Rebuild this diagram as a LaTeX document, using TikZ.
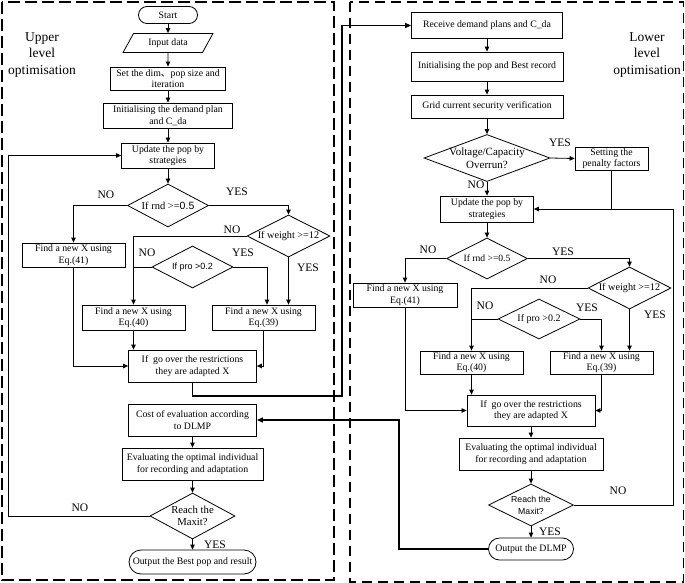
\documentclass[tikz,border=0pt]{standalone}
\usepackage{fontspec}
\setmainfont{Liberation Serif}
\newfontfamily\sansf{Liberation Sans}
\newfontfamily\cjk{Noto Sans CJK SC}
\usetikzlibrary{shapes.geometric,arrows.meta,calc}
\begin{document}
\begin{tikzpicture}[x=1pt,y=-1pt,
 box/.style={draw,rectangle,align=center,inner sep=1pt,font=\fontsize{9.8}{11.5}\selectfont,line width=0.8pt},
 dia/.style={draw,diamond,inner sep=0pt,line width=0.8pt},
 txt/.style={align=center,inner sep=0pt,font=\fontsize{10}{12}\selectfont},
 stxt/.style={align=center,inner sep=0pt,font=\sansf\fontsize{8.7}{12}\selectfont},
 lab/.style={inner sep=0pt,font=\fontsize{11.5}{12}\selectfont},
 ttl/.style={align=center,inner sep=0pt,font=\fontsize{13.5}{16.5}\selectfont},
 arr/.style={-{Triangle[length=5pt,width=4.5pt]},line width=0.8pt},
 ln/.style={line width=0.8pt},
 tarr/.style={-{Triangle[length=6pt,width=5pt]},line width=1.4pt},
 panelL/.style={dash pattern=on 12pt off 5pt,line width=1.6pt},
 panelR/.style={dash pattern=on 10pt off 6pt,line width=1.2pt}
]
\useasboundingbox (0,0) rectangle (685,583);
% panels
\draw[panelL] (2,2) rectangle (334,580);
\draw[panelR] (350,2) rectangle (683.5,582);
\node[ttl] (tU) at (42,55) {Upper\\level\\optimisation};
\node[ttl] (tL) at (647,55) {Lower\\level\\optimisation};

% ---------- upper level ----------
\node[box,minimum width=59,minimum height=17,rounded corners=8.5pt] (start) at (168,15) {Start};
\node[box,trapezium,trapezium left angle=60,trapezium right angle=120,trapezium stretches=true,minimum width=90,minimum height=19] (input) at (168,43) {Input data};
\node[box,minimum width=115,minimum height=23] (set) at (168,78.5) {Set the dim{\cjk 、}pop size and\\iteration};
\node[box,minimum width=129,minimum height=25] (init) at (168,115.5) {Initialising the demand plan\\and C\_da};
\node[box,minimum width=93,minimum height=25] (upd) at (168,155.5) {Update the pop by\\strategies};
\node[dia,minimum width=81,minimum height=43] (rnd) at (168,205.5) {};
\node[txt,font=\fontsize{10.5}{12}\selectfont] (rndt) at (rnd) {If rnd >={\sansf 0.5}};
\node[box,minimum width=103,minimum height=24] (e41) at (73.5,255) {Find a new X using\\Eq.(41)};
\node[dia,minimum width=83,minimum height=42] (wt) at (288.5,236) {};
\node[txt,font=\fontsize{10.2}{12}\selectfont] (wtt) at (wt) {If weight >=12};
\node[dia,minimum width=81,minimum height=42] (pro) at (192.5,267) {};
\node[stxt,font=\sansf\fontsize{9}{12}\selectfont] (prot) at (pro) {If pro >0.2};
\node[box,minimum width=103,minimum height=25] (e40) at (133.5,317.5) {Find a new X using\\Eq.(40)};
\node[box,minimum width=103,minimum height=25] (e39) at (263.5,317.5) {Find a new X using\\Eq.(39)};
\node[box,minimum width=128,minimum height=32] (over) at (192.5,366) {If~ go over the restrictions\\they are adapted X};
\node[box,minimum width=128,minimum height=32] (cost) at (192.5,420) {Cost of evaluation according\\to DLMP};
\node[box,minimum width=141,minimum height=32] (evl) at (192.5,464) {Evaluating the optimal individual\\for recording and adaptation};
\node[dia,minimum width=85,minimum height=46] (max) at (192.5,516) {};
\node[txt,font=\fontsize{10.7}{12.5}\selectfont] (maxt) at (max) {Reach the\\Maxit?};
\node[box,minimum width=127,minimum height=24,rounded corners=12pt] (outb) at (192.5,562) {Output the Best pop and result};

\draw[arr] (start) -- (input);
\draw[arr] (input) -- (set);
\draw[arr] (set) -- (init);
\draw[arr] (init) -- (upd);
\draw[arr] (upd) -- (rnd);
\draw[arr] (rnd.west) -| (e41.north);
\draw[arr] (rnd.east) -| (wt.north);
\draw[arr] (wt.west) -| (e40.north);
\draw[ln] (pro.west) -- (pro.west -| e40.north);
\draw[arr] (pro.east) -| ([xshift=3.5pt]e39.north);
\draw[arr] (wt.south) -- (wt.south |- e39.north);
\draw[arr] (e41.south) |- (over.west);
\draw[arr] (e40.south) -- (e40.south |- over.north);
\draw[arr] (e39.south) |- (over.east);
\draw[arr] (cost) -- (evl);
\draw[arr] (evl) -- (max);
\draw[arr] (max) -- (outb);
\coordinate (lb) at (8,516);
\draw[arr] (max.west) -- (lb) |- (upd.west);

\node[lab] (n1) at (106,195) {NO};
\node[lab] (y1) at (237,192) {YES};
\node[lab] (n2) at (232,230) {NO};
\node[lab] (n3) at (147,253) {NO};
\node[lab] (y3) at (243,253) {YES};
\node[lab] (y2) at (308,268) {YES};
\node[lab] (n4) at (80,508) {NO};
\node[lab] (y4) at (215,545) {YES};

% ---------- lower level ----------
\node[box,minimum width=151,minimum height=26] (recv) at (487,25.5) {Receive demand plans and C\_da};
\node[box,minimum width=152,minimum height=29] (initR) at (487,66.5) {Initialising the pop and Best record};
\node[box,minimum width=152,minimum height=23] (grid) at (487,106.5) {Grid current security verification};
\node[dia,minimum width=126,minimum height=47] (volt) at (487,158) {};
\node[txt,font=\fontsize{11}{13}\selectfont] (voltt) at (volt) {Voltage/Capacity\\Overrun?};
\node[box,minimum width=73,minimum height=23] (pen) at (611.5,158.5) {Setting the\\penalty factors};
\node[box,minimum width=93,minimum height=26] (updR) at (487,209) {Update the pop by\\strategies};
\node[dia,minimum width=81,minimum height=41] (rndR) at (487,258.5) {};
\node[txt,font=\fontsize{9.6}{12}\selectfont] (rndRt) at (rndR) {If rnd >=0.5};
\node[box,minimum width=104,minimum height=24] (e41R) at (405,295) {Find a new X using\\Eq.(41)};
\node[dia,minimum width=83,minimum height=42] (wtR) at (629.5,288) {};
\node[txt,font=\fontsize{10.2}{12}\selectfont] (wtRt) at (wtR) {If weight >=12};
\node[dia,minimum width=82,minimum height=40] (proR) at (539,319) {};
\node[txt] (proRt) at (proR) {If pro >0.2};
\node[box,minimum width=103,minimum height=23] (e40R) at (471.5,362.5) {Find a new X using\\Eq.(40)};
\node[box,minimum width=103,minimum height=23] (e39R) at (601.5,362.5) {Find a new X using\\Eq.(39)};
\node[box,minimum width=128,minimum height=31] (overR) at (531,410.5) {If~ go over the restrictions\\they are adapted X};
\node[box,minimum width=144,minimum height=32] (evlR) at (531,454) {Evaluating the optimal individual\\for recording and adaptation};
\node[dia,minimum width=85,minimum height=42] (maxR) at (531,505) {};
\node[stxt] (maxRt) at (maxR) {Reach the\\Maxit?};
\node[box,minimum width=85,minimum height=22,rounded corners=11pt] (outR) at (531,549) {Output the DLMP};

\draw[arr] (recv) -- (initR);
\draw[arr] (initR) -- (grid);
\draw[arr] (grid) -- (volt);
\draw[arr] (volt.east) -- (pen.west);
\draw[arr] (volt) -- (updR);
\draw[ln] (pen.south) -- (pen.south |- updR.east);
\coordinate (rb) at (673,505);
\draw[arr] (maxR.east) -- (rb) |- (updR.east);
\draw[arr] (updR) -- (rndR);
\draw[arr] (rndR.west) -| (e41R.north);
\draw[arr] (rndR.east) -| (wtR.north);
\draw[arr] (wtR.west) -| (e40R.north);
\draw[ln] (proR.west) -- (proR.west -| e40R.north);
\draw[arr] (proR.east) -| (e39R.north);
\draw[arr] (wtR.south) -- (wtR.south |- e39R.north);
\draw[arr] (e41R.south) |- (overR.west);
\draw[arr] (e40R.south) -- (e40R.south |- overR.north);
\draw[arr] (e39R.south) |- (overR.east);
\draw[arr] (overR) -- (evlR);
\draw[arr] (evlR) -- (maxR);
\draw[arr] (maxR) -- (outR);

\node[lab] (ry0) at (560,143) {YES};
\node[lab] (rn0) at (476,185) {NO};
\node[lab] (rn1) at (428,250) {NO};
\node[lab] (ry1) at (563,252) {YES};
\node[lab] (rn2) at (548,280) {NO};
\node[lab] (rn3) at (485,306) {NO};
\node[lab] (ry3) at (587,308) {YES};
\node[lab] (ry2) at (655,315) {YES};
\node[lab] (rn4) at (618,491) {NO};
\node[lab] (ry4) at (550,532) {YES};

% ---------- links between levels ----------
\coordinate (j1) at (342,396);
\draw[tarr] (over.south) |- (j1) |- (recv.west);
\coordinate (j2) at (399,549);
\draw[tarr] (outR.west) -- (j2) |- (cost.east);
\end{tikzpicture}
\end{document}
